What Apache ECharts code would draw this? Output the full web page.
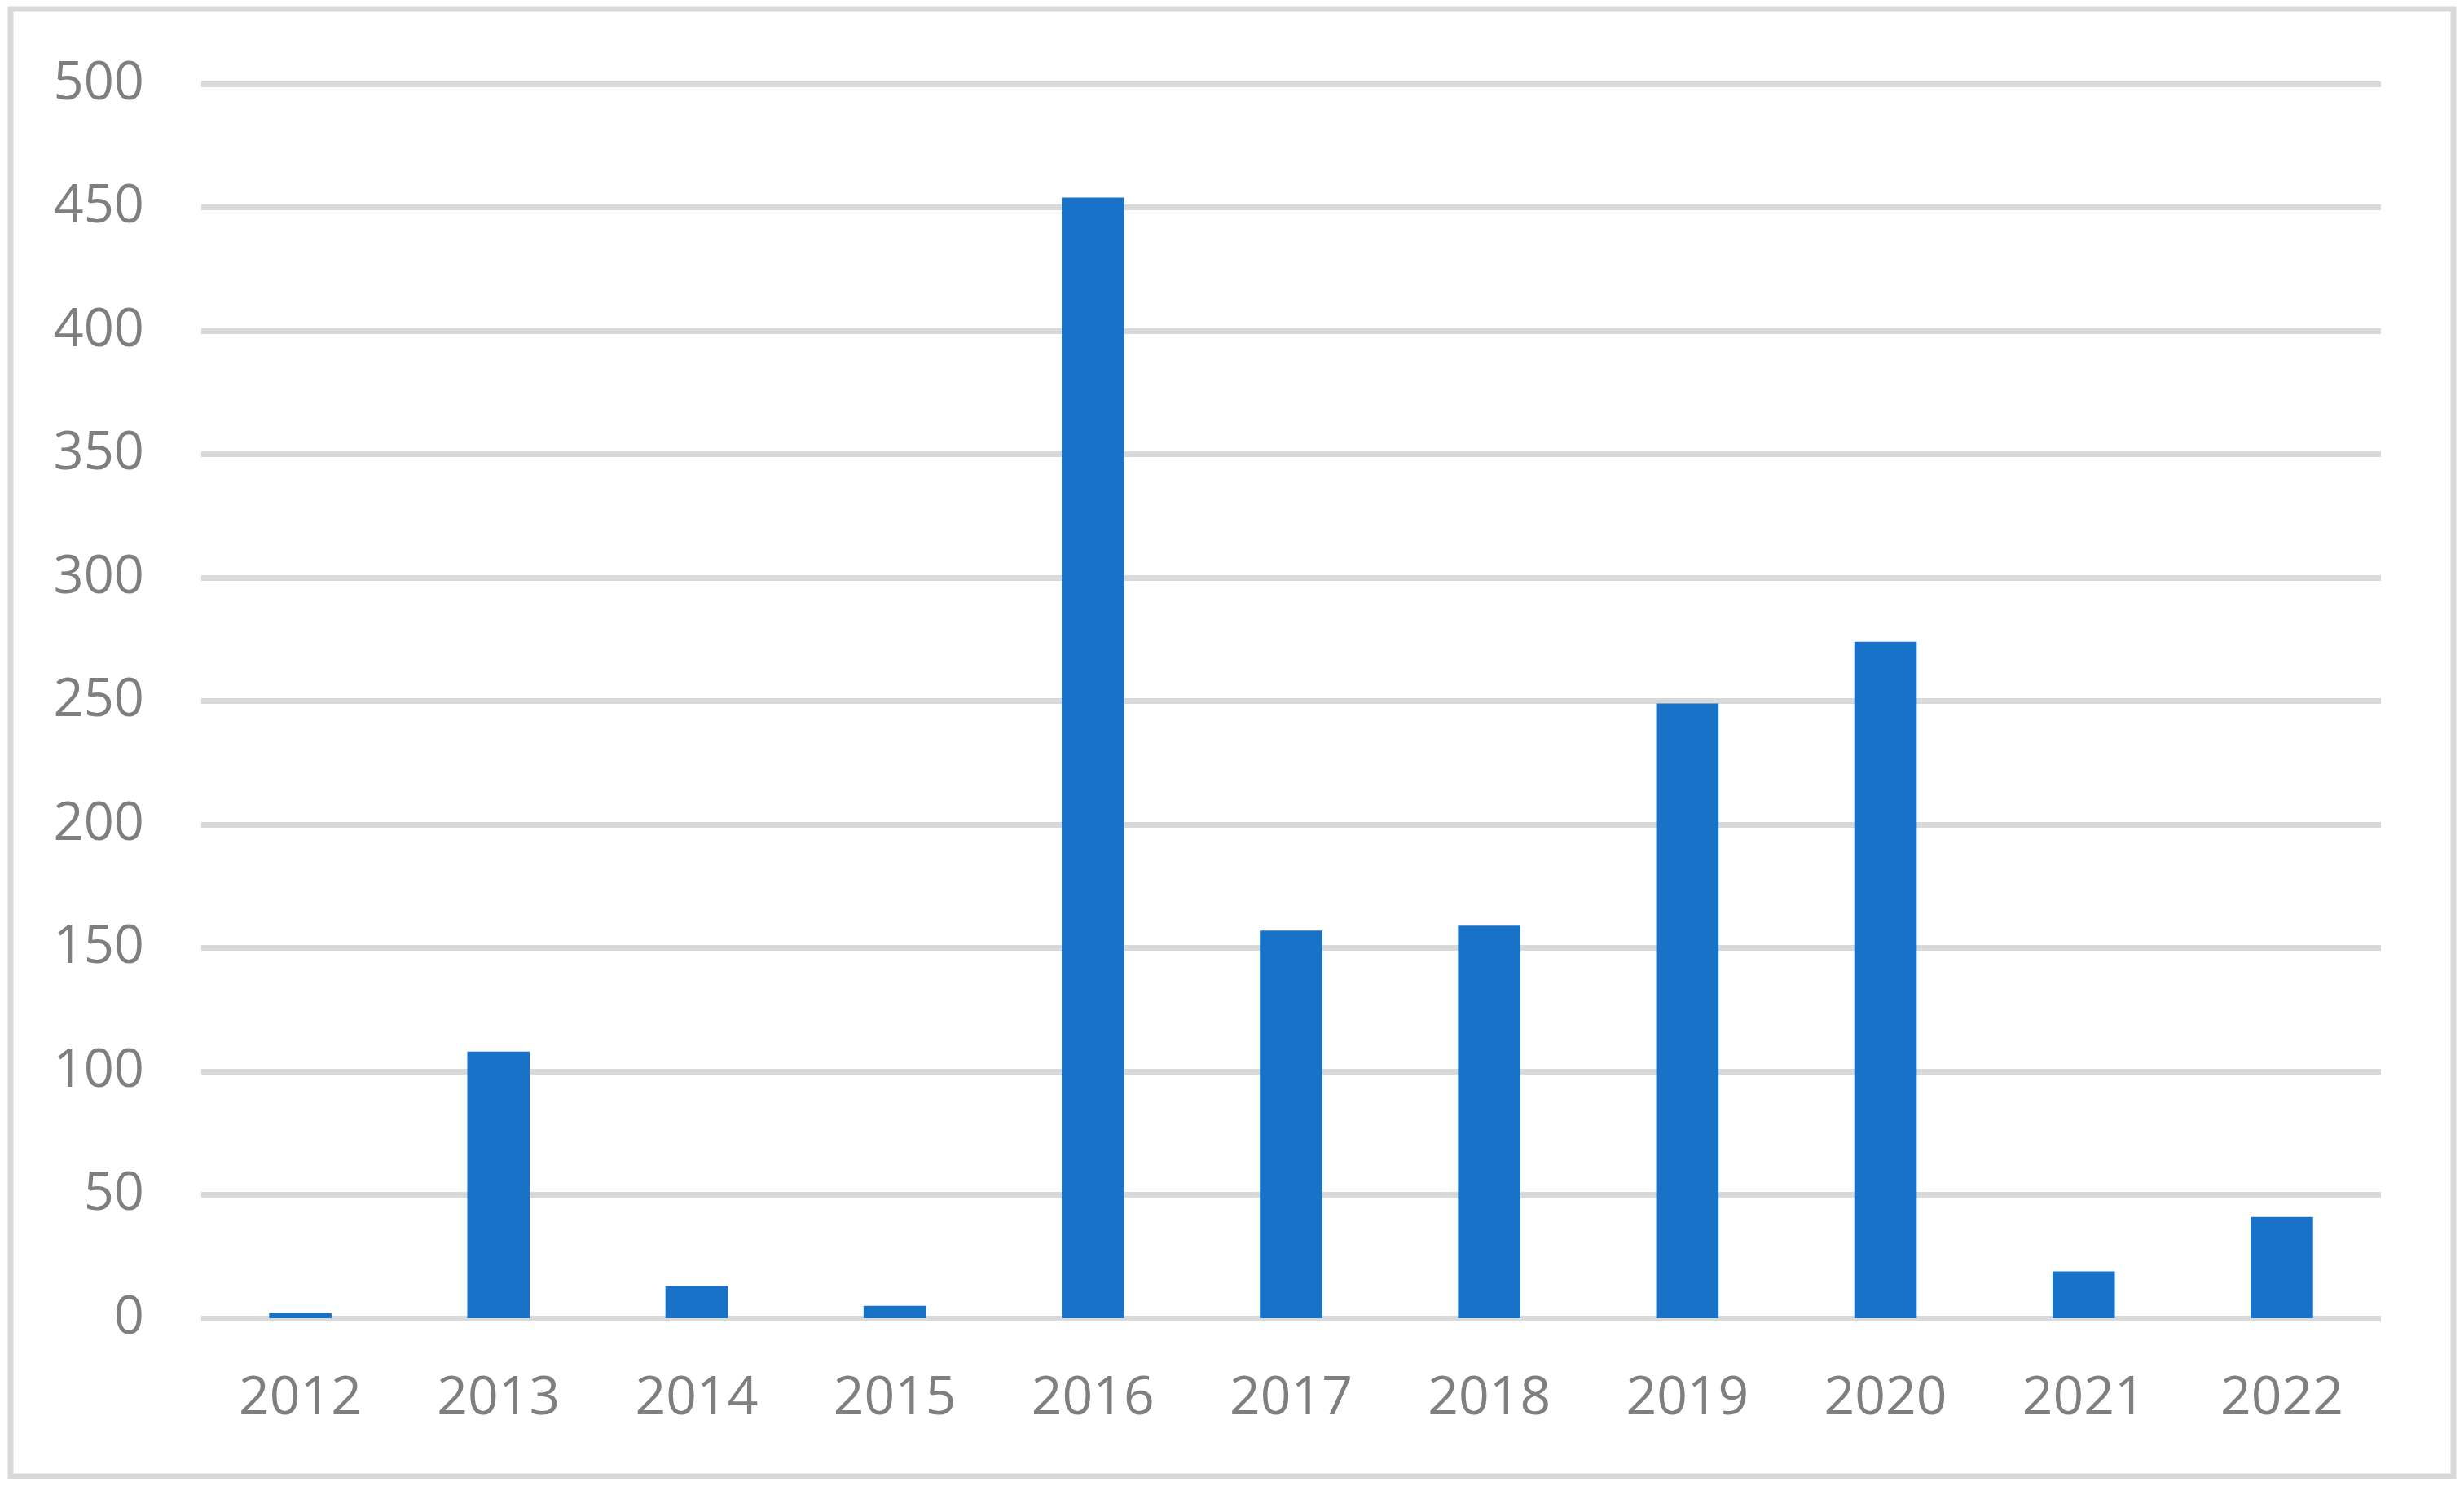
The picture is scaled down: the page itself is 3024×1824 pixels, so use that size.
<!DOCTYPE html>
<html>
<head>
<meta charset="utf-8">
<style>
  html, body { margin: 0; padding: 0; background: #ffffff; }
  #chart { width: 3024px; height: 1824px; }
</style>
<script src="https://cdn.jsdelivr.net/npm/echarts@6/dist/echarts.min.js"></script>
</head>
<body>
<div id="chart"></div>
<script>
const years = ["2012", "2013", "2014", "2015", "2016", "2017", "2018", "2019", "2020", "2021", "2022"];
const counts = [2, 108, 13, 5, 454, 157, 159, 249, 274, 19, 41];
const yTicks = [0, 50, 100, 150, 200, 250, 300, 350, 400, 450, 500];

const gridColor = "#d9d9d9";
const labelColor = "#7f7f7f";
const barColor = "#1873c8";
const fontFamily = "'Open Sans', 'Liberation Sans', sans-serif";

const chart = echarts.init(document.getElementById("chart"));

chart.setOption({
  animation: false,
  backgroundColor: "#ffffff",
  grid: { left: 247, right: 102, top: 103, bottom: 206 },
  graphic: [
    {
      type: "rect",
      shape: { x: 13, y: 11, width: 2998, height: 1801 },
      style: { fill: "none", stroke: gridColor, lineWidth: 7 },
      silent: true
    }
  ],
  xAxis: {
    type: "category",
    data: years,
    axisTick: { show: false },
    axisLine: { show: false },
    axisLabel: {
      color: labelColor,
      fontSize: 66,
      fontFamily: fontFamily,
      margin: 66
    }
  },
  yAxis: {
    type: "value",
    min: yTicks[0],
    max: yTicks[yTicks.length - 1],
    interval: 50,
    axisTick: { show: false },
    axisLine: { show: false },
    axisLabel: {
      color: labelColor,
      fontSize: 65,
      fontFamily: fontFamily,
      margin: 70
    },
    splitLine: { lineStyle: { color: gridColor, width: 7 } }
  },
  series: [
    {
      type: "bar",
      data: counts,
      barWidth: "31.5%",
      itemStyle: { color: barColor }
    }
  ]
});
</script>
</body>
</html>
